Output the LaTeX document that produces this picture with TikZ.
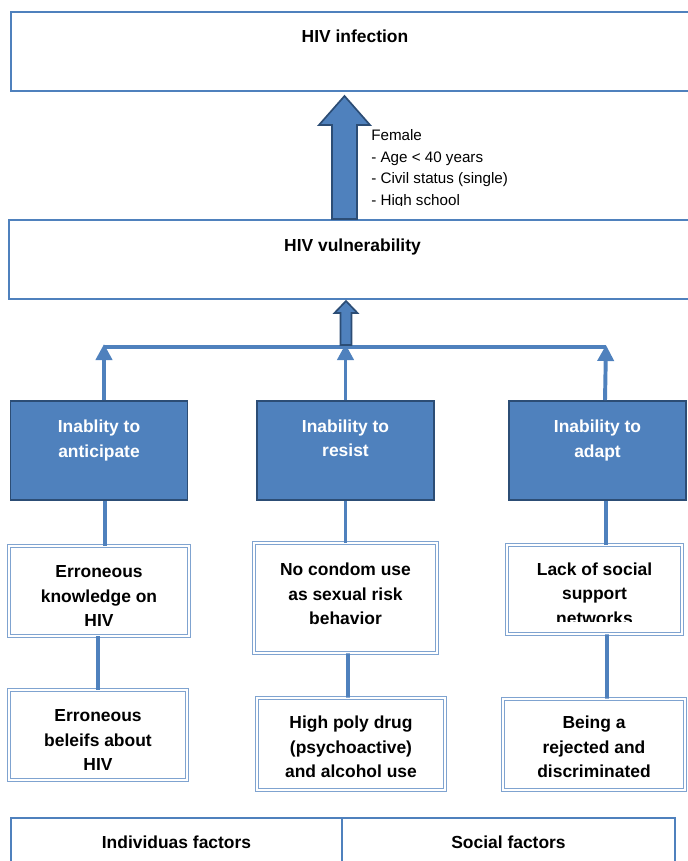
\documentclass[tikz,border=0pt]{standalone}
\usepackage{fontspec}
\setmainfont{Liberation Sans}
\usetikzlibrary{arrows.meta, positioning, calc}

\definecolor{fillcol}{HTML}{4F81BD}
\definecolor{linecol}{HTML}{4F81BD}
\definecolor{darkcol}{HTML}{2C4D75}
\definecolor{framecol}{HTML}{7FA3D0}

\newcommand{\boxfont}{\fontsize{12.4}{17.4}\selectfont\bfseries}
\newcommand{\notefont}{\fontsize{10.8}{15.3}\selectfont}

\begin{document}
\begin{tikzpicture}[
  x=0.025cm, y=-0.025cm,
  boxsize/.style 2 args={minimum width=#1*0.025cm, minimum height=#2*0.025cm},
  bigbox/.style={draw=linecol, line width=1.2pt},
  headtext/.style={font=\boxfont, inner sep=0pt},
  bluebox/.style={draw=darkcol, fill=fillcol, line width=1.4pt, boxsize={177}{99}},
  bluetext/.style={font=\boxfont, text=white, align=center, inner sep=0pt},
  factorbox/.style={draw=framecol, double=white, line width=0.5pt, double distance=1.4pt},
  factortext/.style={font=\boxfont, align=center, inner sep=0pt},
  factorcell/.style={draw=linecol, line width=1.2pt, font=\boxfont},
  wire/.style={draw=linecol, line width=2.8pt},
  uparrow/.style={wire, -{Triangle[length=4mm, width=4mm]}},
  blockarrow/.style={draw=darkcol, fill=fillcol, line width=1.2pt, line join=miter}
]
\useasboundingbox (0,0) rectangle (688,861);

% Top boxes
\node[bigbox, boxsize={690}{79}] (inf) at (356,51.5) {};
\node[headtext] (infT) at (355,36) {HIV infection};
\node[bigbox, boxsize={692}{79}] (vul) at (355,259.5) {};
\node[headtext] (vulT) at (352.5,247) {HIV vulnerability};

% Note beside the big arrow, cut at the bottom
\begin{scope}
  \clip (360,120) rectangle (540,205);
  \node[font=\notefont, align=left, anchor=north west, inner sep=0pt] (note) at (371,129.5)
    {Female\\- Age < 40 years\\- Civil status (single)\\- High school};
\end{scope}

% Big arrow
\draw[blockarrow] (332,219) -- (332,125) -- (319,125) -- (344.5,96) -- (370,125)
  -- (357,125) -- (357,219) -- cycle;

% Blue row
\node[bluebox] (ant) at (99,450.5) {};
\node[bluebox] (res) at (345.5,450.5) {};
\node[bluebox] (ada) at (597.5,450.5) {};
\node[bluetext] (antT) at ($(ant.north)+(0,40.5)$) {Inablity to\\anticipate};
\node[bluetext] (resT) at ($(res.north)+(0,38.5)$) {Inability to\\resist};
\node[bluetext] (adaT) at ($(ada.north)+(0,40.5)$) {Inability to\\adapt};

% Bus and arrows up
\coordinate (busL) at (104,347);
\coordinate (busR) at (606,347);
\draw[wire, line width=3.3pt] (busL) -- (busR);
\draw[uparrow] ($(ant.north)+(5,0)$) -- ($(busL)+(0,-3)$);
\draw[uparrow] (res.north) -- ($(res.north |- busL)+(0,-3)$);
\draw[uparrow] ($(ada.north)+(7.5,0)$) -- ($(busR)+(0,-2)$);

% Small arrow
\draw[blockarrow] (340.5,345) -- (340.5,313) -- (334.5,313) -- (346,301) -- (357.5,313)
  -- (351.5,313) -- (351.5,345) -- cycle;

% Factor boxes
\node[factorbox, boxsize={180}{90}] (erk) at (99,591) {};
\node[factorbox, boxsize={183}{110}] (ncu) at (345.5,598) {};
\node[factorbox, boxsize={175}{89}] (lss) at (594.5,589.5) {};
\node[factorbox, boxsize={178}{90}] (ebh) at (98,735) {};
\node[factorbox, boxsize={188}{92}] (hpd) at (351,744) {};
\node[factorbox, boxsize={182}{91}] (brd) at (594,744.5) {};

\node[factortext] (erkT) at ($(erk)+(0,5)$) {Erroneous\\knowledge on\\HIV};
\node[factortext] (ncuT) at ($(ncu)+(0,-4)$) {No condom use\\as sexual risk\\behavior};
\begin{scope}
  \clip (500,540) rectangle (690,621.5);
  \node[factortext] (lssT) at ($(lss)+(0,4)$) {Lack of social\\support\\networks};
\end{scope}
\node[factortext] (ebhT) at ($(ebh)+(0,5)$) {Erroneous\\beleifs about\\HIV};
\node[factortext] (hpdT) at ($(hpd)+(0,3)$) {High poly drug\\(psychoactive)\\and alcohol use};
\node[factortext] (brdT) at ($(brd)+(0,2.5)$) {Being a\\rejected and\\discriminated};

% Links
\draw[wire] ($(ant.south)+(6,0)$) -- ($(erk.north)+(6,0)$);
\draw[wire] ($(erk.south)+(-1,0)$) -- (ebh.north);
\draw[wire] (res.south) -- (ncu.north);
\draw[wire] ($(ncu.south)+(2.5,0)$) -- ($(hpd.north)+(-3,0)$);
\draw[wire] ($(ada.south)+(8.5,0)$) -- ($(lss.north)+(11.5,0)$);
\draw[wire] ($(lss.south)+(12.5,0)$) -- ($(brd.north)+(13,0)$);

% Bottom table
\node[factorcell, boxsize={331}{48}] (indiv) at (176.5,842) {Individuas factors};
\node[factorcell, boxsize={333}{48}] (social) at (508.5,842) {Social factors};

\end{tikzpicture}
\end{document}
